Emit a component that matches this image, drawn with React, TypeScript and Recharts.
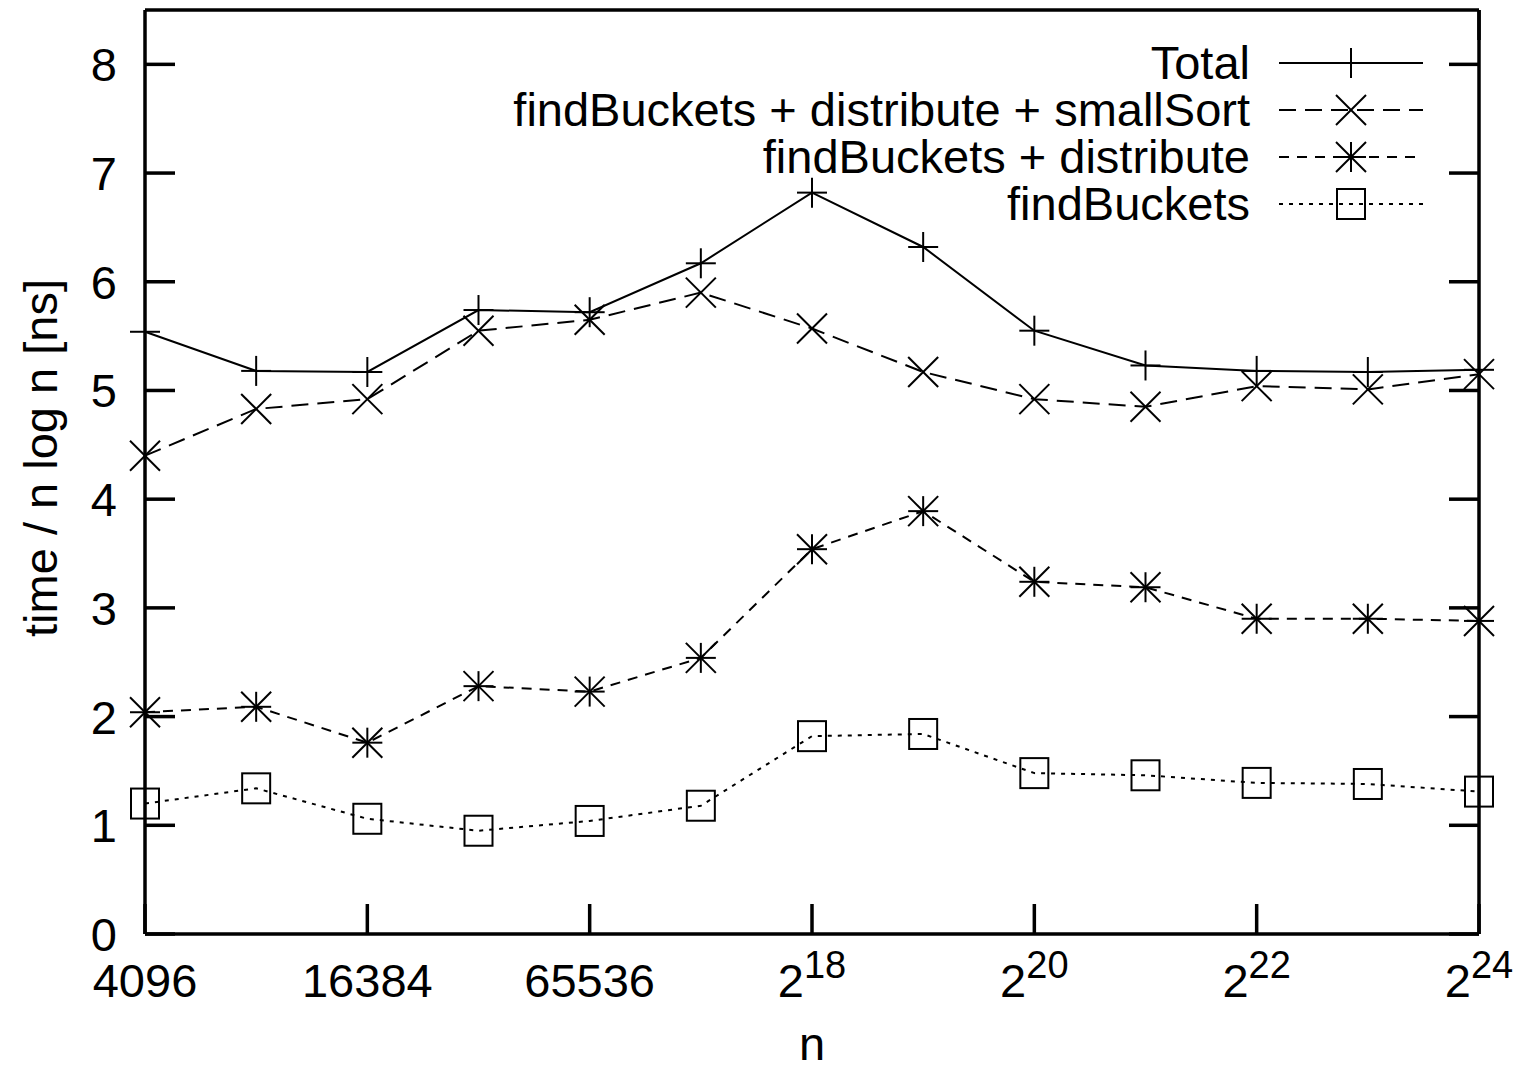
import { LineChart, Line, XAxis, YAxis } from "recharts";

// log2(n) positions and the tick labels shown under them
const exps = [12, 13, 14, 15, 16, 17, 18, 19, 20, 21, 22, 23, 24];
const xTicks = [12, 14, 16, 18, 20, 22, 24];
const xTickLabels = ["4096", "16384", "65536", "2^18", "2^20", "2^22", "2^24"];
const yTicks = [0, 1, 2, 3, 4, 5, 6, 7, 8];

// time / n log n [ns]
const total = [5.54, 5.18, 5.17, 5.74, 5.72, 6.17, 6.82, 6.32, 5.55, 5.23, 5.18, 5.17, 5.19];
const smallSort = [4.4, 4.83, 4.92, 5.55, 5.65, 5.9, 5.57, 5.17, 4.92, 4.85, 5.04, 5.01, 5.15];
const distribute = [2.04, 2.09, 1.76, 2.28, 2.23, 2.54, 3.54, 3.89, 3.24, 3.19, 2.9, 2.9, 2.88];
const findBuckets = [1.2, 1.34, 1.06, 0.95, 1.04, 1.18, 1.82, 1.84, 1.48, 1.46, 1.39, 1.38, 1.31];

const FONT = "'Liberation Sans', Arial, sans-serif";
const FS = 47;
const TICK_LEN = 30;
const AXIS_W = 3.5;

const rows = exps.map((e, i) => ({
  e,
  total: total[i],
  smallSort: smallSort[i],
  distribute: distribute[i],
  findBuckets: findBuckets[i],
}));

// gnuplot point types
function Marker({ kind, cx, cy }: { kind: string; cx: number; cy: number }) {
  const s = 15;
  const st = { stroke: "#000", strokeWidth: 2, fill: "none" };
  if (kind === "plus")
    return (
      <g {...st}>
        <line x1={cx - s} x2={cx + s} y1={cy} y2={cy} />
        <line x1={cx} x2={cx} y1={cy - s} y2={cy + s} />
      </g>
    );
  if (kind === "cross")
    return (
      <g {...st}>
        <line x1={cx - s} x2={cx + s} y1={cy - s} y2={cy + s} />
        <line x1={cx - s} x2={cx + s} y1={cy + s} y2={cy - s} />
      </g>
    );
  if (kind === "star")
    return (
      <g {...st}>
        <line x1={cx - s} x2={cx + s} y1={cy} y2={cy} />
        <line x1={cx} x2={cx} y1={cy - s} y2={cy + s} />
        <line x1={cx - s} x2={cx + s} y1={cy - s} y2={cy + s} />
        <line x1={cx - s} x2={cx + s} y1={cy + s} y2={cy - s} />
      </g>
    );
  return <rect x={cx - 14} y={cy - 15} width={28} height={30} {...st} />;
}

const series = [
  { key: "total", name: "Total", dash: undefined, marker: "plus" },
  { key: "smallSort", name: "findBuckets + distribute + smallSort", dash: "17 9", marker: "cross" },
  { key: "distribute", name: "findBuckets + distribute", dash: "10 8", marker: "star" },
  { key: "findBuckets", name: "findBuckets", dash: "4 6", marker: "box" },
];

function tickText(label: string, x: number, y: number) {
  if (label.startsWith("2^")) {
    return (
      <text x={x} y={y} textAnchor="middle" fontSize={FS} fontFamily={FONT} fill="#000">
        <tspan>2</tspan>
        <tspan dy={-19} fontSize={38}>
          {label.slice(2)}
        </tspan>
      </text>
    );
  }
  return (
    <text x={x} y={y} textAnchor="middle" fontSize={FS} fontFamily={FONT} fill="#000">
      {label}
    </text>
  );
}

const XTickBottom = (p: any) => {
  const i = xTicks.indexOf(p.payload.value);
  return (
    <g>
      <line x1={p.x} x2={p.x} y1={p.y} y2={p.y - TICK_LEN} stroke="#000" strokeWidth={AXIS_W} />
      {tickText(xTickLabels[i], p.x, p.y + 63)}
    </g>
  );
};

const XTickTop = (p: any) => (
  <line x1={p.x} x2={p.x} y1={p.y} y2={p.y + TICK_LEN} stroke="#000" strokeWidth={AXIS_W} />
);

const YTickLeft = (p: any) => (
  <g>
    <line x1={p.x} x2={p.x + TICK_LEN} y1={p.y} y2={p.y} stroke="#000" strokeWidth={AXIS_W} />
    <text x={p.x - 28} y={p.y + 17} textAnchor="end" fontSize={FS} fontFamily={FONT} fill="#000">
      {p.payload.value}
    </text>
  </g>
);

const YTickRight = (p: any) => (
  <line x1={p.x} x2={p.x - TICK_LEN} y1={p.y} y2={p.y} stroke="#000" strokeWidth={AXIS_W} />
);

function KeyBox() {
  return (
    <svg
      width={1515}
      height={1071}
      style={{ position: "absolute", left: 0, top: 0, pointerEvents: "none" }}
    >
      {series.map((s, i) => {
        const y = 63 + i * 47;
        return (
          <g key={s.key}>
            <text x={1250} y={y + 16} textAnchor="end" fontSize={FS} fontFamily={FONT} fill="#000">
              {s.name}
            </text>
            <line x1={1279} x2={1423} y1={y} y2={y} stroke="#000" strokeWidth={2} strokeDasharray={s.dash} />
            <Marker kind={s.marker} cx={1351} cy={y} />
          </g>
        );
      })}
    </svg>
  );
}

export default function App() {
  return (
    <div style={{ position: "absolute", left: 0, top: 0, width: 1515, height: 1071, background: "#fff" }}>
      <LineChart width={1515} height={1071} data={rows} margin={{ top: 9, right: 0, bottom: 0, left: 0 }}>
        <XAxis
          dataKey="e"
          type="number"
          domain={[12, 24]}
          ticks={xTicks}
          interval={0}
          height={137}
          tickSize={0}
          tickMargin={0}
          axisLine={{ stroke: "#000", strokeWidth: AXIS_W }}
          tick={XTickBottom}
          label={{
            content: (p: any) => (
              <text
                x={p.viewBox.x + p.viewBox.width / 2}
                y={p.viewBox.y + 126}
                textAnchor="middle"
                fontSize={FS}
                fontFamily={FONT}
              >
                n
              </text>
            ),
          }}
        />
        <XAxis
          xAxisId="top"
          orientation="top"
          type="number"
          domain={[12, 24]}
          allowDataOverflow
          ticks={xTicks}
          interval={0}
          height={1}
          tickSize={0}
          tickMargin={0}
          axisLine={{ stroke: "#000", strokeWidth: AXIS_W }}
          tick={XTickTop}
        />
        <YAxis
          type="number"
          domain={[0, 8.5]}
          ticks={yTicks}
          interval={0}
          width={145}
          tickSize={0}
          tickMargin={0}
          axisLine={{ stroke: "#000", strokeWidth: AXIS_W }}
          tick={YTickLeft}
          label={{
            content: (p: any) => {
              const cx = 57;
              const cy = p.viewBox.y + p.viewBox.height / 2 - 14;
              return (
                <text
                  x={cx}
                  y={cy}
                  transform={`rotate(-90 ${cx} ${cy})`}
                  textAnchor="middle"
                  fontSize={FS}
                  fontFamily={FONT}
                >
                  time / n log n [ns]
                </text>
              );
            },
          }}
        />
        <YAxis
          yAxisId="right"
          orientation="right"
          type="number"
          domain={[0, 8.5]}
          allowDataOverflow
          ticks={yTicks}
          interval={0}
          width={36}
          tickSize={0}
          tickMargin={0}
          axisLine={{ stroke: "#000", strokeWidth: AXIS_W }}
          tick={YTickRight}
        />
        {series.map((s) => (
          <Line
            key={s.key}
            dataKey={s.key}
            name={s.name}
            type="linear"
            stroke="#000"
            strokeWidth={2}
            strokeDasharray={s.dash}
            isAnimationActive={false}
            dot={(p: any) => <Marker key={`${s.key}-${p.index}`} kind={s.marker} cx={p.cx} cy={p.cy} />}
            activeDot={false}
          />
        ))}
      </LineChart>
      <KeyBox />
    </div>
  );
}
